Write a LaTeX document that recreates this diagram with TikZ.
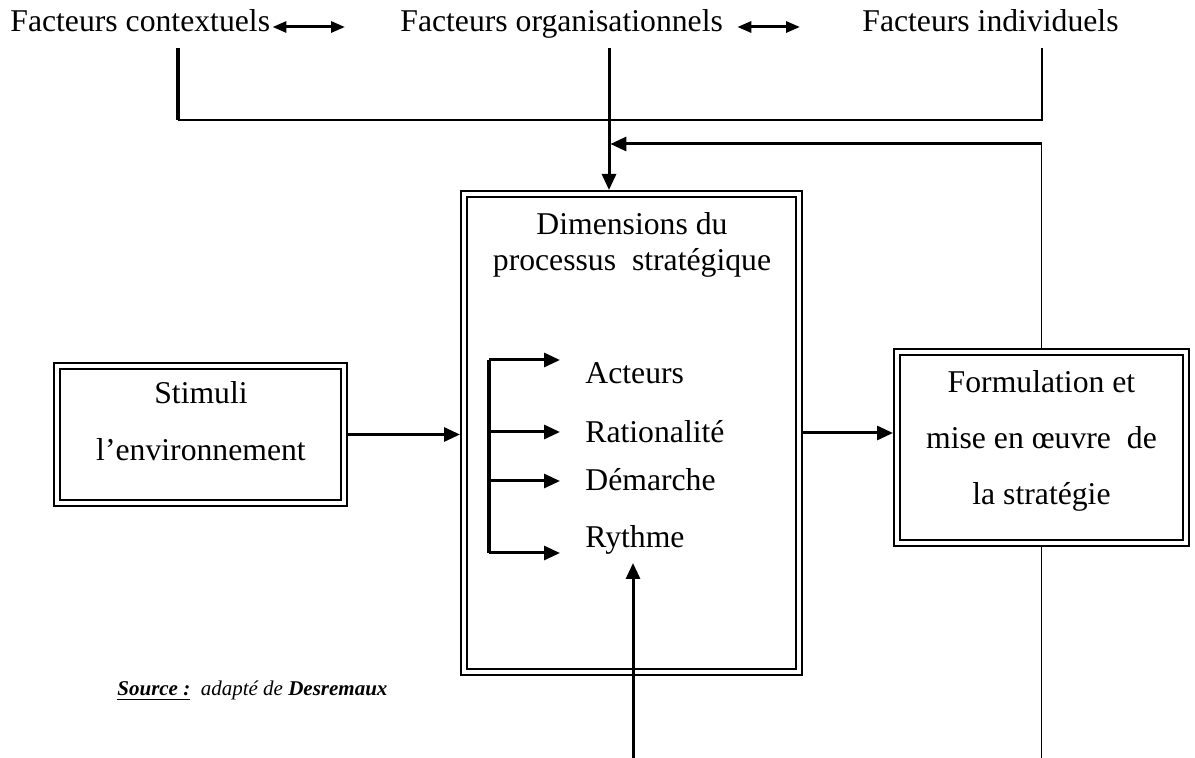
\documentclass[tikz,border=0pt]{standalone}
\usepackage{fontspec}
\setmainfont{Liberation Serif}
\usetikzlibrary{arrows.meta,positioning,calc}

\begin{document}
\begin{tikzpicture}[x=0.5pt, y=-0.5pt,
  font=\fontsize{15.85pt}{19pt}\selectfont,
  txt/.style={inner sep=0pt, anchor=base west, text height=0.7em, text depth=0.2em},
  item/.style={inner sep=0pt, anchor=west},
  dbox/.style={draw, line width=1.1pt, double, double distance=1.9pt, outer sep=2pt, inner sep=0pt},
  boxtxt/.style={align=center, inner sep=0pt},
  thk/.style={line width=1.6pt},
  thn/.style={line width=0.9pt},
  arrow/.style={-{Triangle[length=8pt,width=7pt]}, line width=1.5pt},
  biarrow/.style={{Triangle[length=7pt,width=5.5pt]}-{Triangle[length=7pt,width=5.5pt]}, line width=1.5pt}]
  \useasboundingbox (0,0) rectangle (1195,758);
  % factors on top
  \node[txt] (ctx) at (10,32) {Facteurs contextuels};
  \node[txt] (org) at (400,32) {Facteurs organisationnels};
  \node[txt] (ind) at (862,32) {Facteurs individuels};
  \draw[biarrow, shorten <=1pt, shorten >=27.5pt] (ctx.east) -- (org.west);
  \draw[biarrow, shorten <=7pt, shorten >=31pt] (org.east) -- (org.east -| ind.west);
  % boxes
  \node[dbox, minimum width=143.5pt, minimum height=68.5pt] (stim) at (200.5,434.5) {};
  \node[dbox, minimum width=167.5pt, minimum height=239pt] (dim) at (631.5,433) {};
  \node[dbox, minimum width=144.5pt, minimum height=95.5pt] (form) at (1041.5,447.5) {};
  \node[boxtxt, font=\fontsize{15.85pt}{28.5pt}\selectfont] (stimtxt) at (201,421.5) {Stimuli\\l’environnement};
  \node[boxtxt, font=\fontsize{15.85pt}{18pt}\selectfont] (dimtxt) at (632,245) {Dimensions du\\processus\ \ stratégique};
  \node[boxtxt, font=\fontsize{15.85pt}{28pt}\selectfont] (formtxt) at (1041.5,441) {Formulation et\\mise en œuvre\ \ de\\la stratégie};
  % dimensions
  \node[item] (act) at (585,373) {Acteurs};
  \node[item] (rat) at (585,432) {Rationalité};
  \node[item] (dem) at (585,480) {Démarche};
  \node[item] (ryt) at (585,540) {Rythme};
  \coordinate (brtop) at (489,360);
  \coordinate (brbot) at (489,553);
  \draw[thk] (brtop) -- (brbot);
  \foreach \y in {360,432,481,553}
    \draw[arrow] (brtop |- 0,\y) -- (560,\y);
  % connectors
  \coordinate (cdrop) at (178,48);
  \coordinate (odrop) at (609,48);
  \coordinate (idrop) at (1042,48);
  \coordinate (jrow) at (0,120);
  \coordinate (fbk) at (609,144);
  \coordinate (base) at (633,758);
  \coordinate (rtip) at (633,563);
  \draw[thk] (cdrop) -- (cdrop |- jrow);
  \draw[thn] (cdrop |- jrow) -| (idrop);
  \draw[arrow] (odrop) -- (odrop |- dim.north);
  \draw[thn] (form.north) -- (form.north |- fbk);
  \draw[arrow, shorten >=0.7pt] (form.north |- fbk) -- (fbk);
  \draw[arrow] (stim.east) -- (stim.east -| dim.west);
  \draw[arrow] (dim.east) -- (dim.east -| form.west);
  \draw[arrow] (base) -- (rtip);
  \draw[thn] (form.south) -- (form.south |- base);
  % source
  \node[anchor=base west, inner sep=0pt, font=\fontsize{10.5pt}{12pt}\selectfont] (src) at (117,696)
    {\underline{\textbf{\textit{Source :}}}\ \ \textit{adapté de \textbf{Desremaux}}};
\end{tikzpicture}
\end{document}
